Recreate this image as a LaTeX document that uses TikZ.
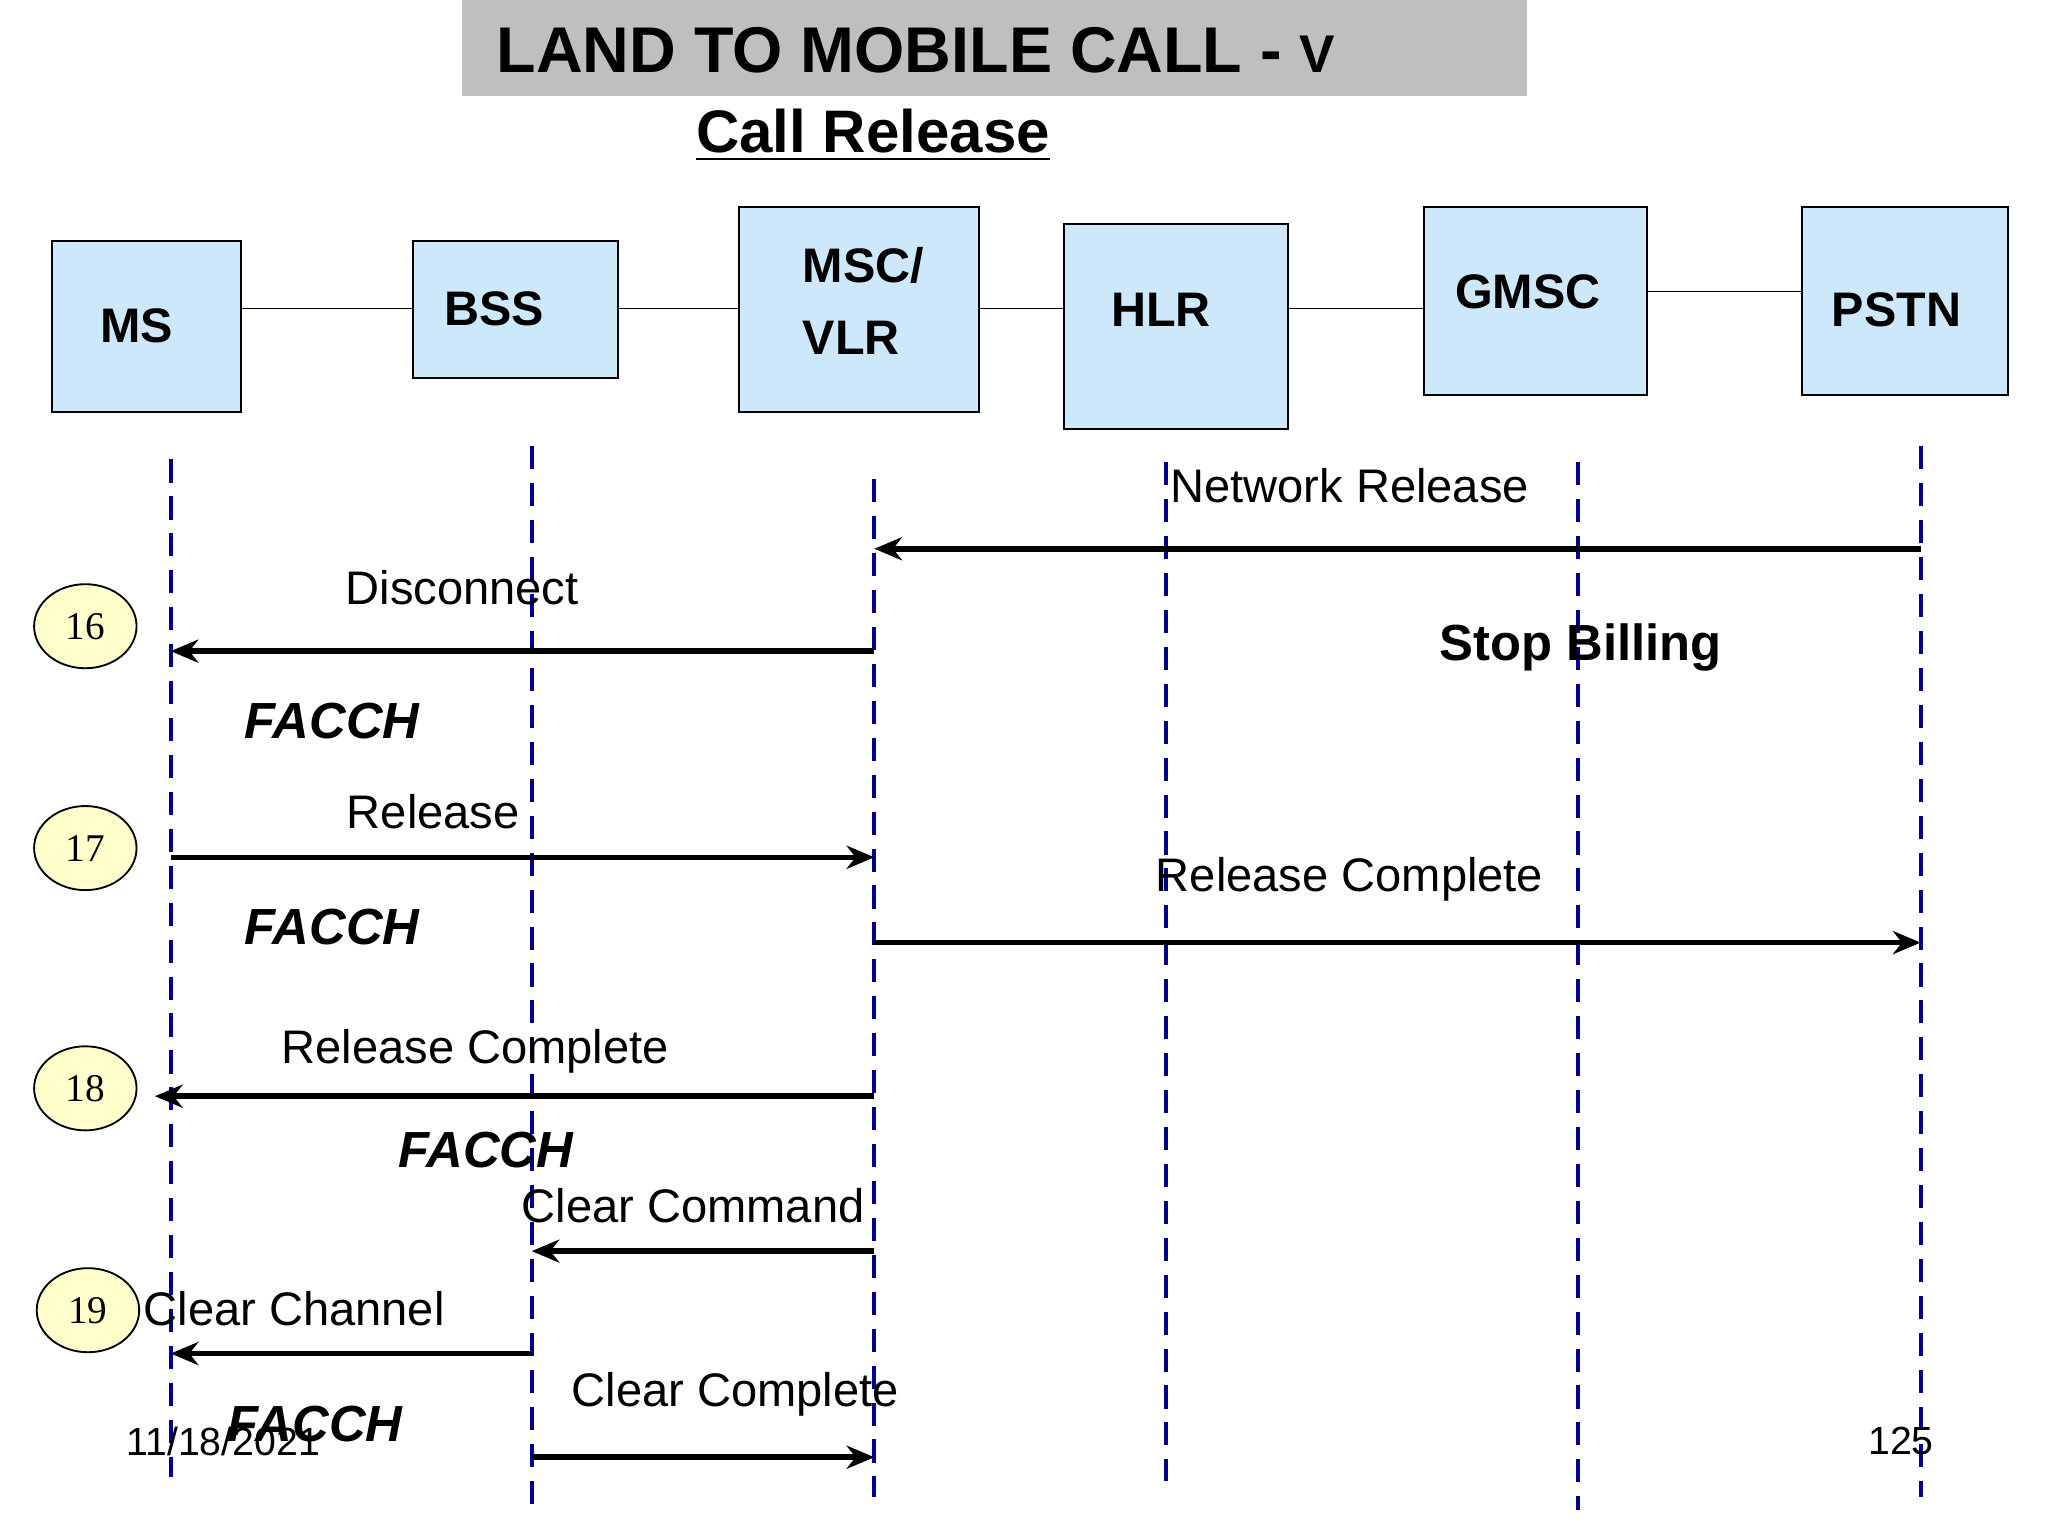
\documentclass[tikz,border=0pt]{standalone}
\usepackage{fontspec}
\setmainfont{Liberation Sans}
\newfontfamily\numfont{Liberation Serif}
\usetikzlibrary{arrows.meta}
\usetikzlibrary{shapes.geometric}
\definecolor{boxblue}{RGB}{204,232,250}
\definecolor{circyel}{RGB}{255,255,204}
\definecolor{lifeblue}{RGB}{0,0,140}
\tikzset{
  ent/.style={draw, fill=boxblue, anchor=north west, inner sep=0pt},
  ename/.style={font=\bfseries\fontsize{10.5}{13}\selectfont, anchor=west},
  life/.style={lifeblue, dashed, line width=0.9pt, dash pattern=on 5pt off 3pt},
  msg/.style={line width=1.2pt, -{Stealth[length=6pt,width=5pt]}},
  lbl/.style={font=\fontsize{10.2}{12}\selectfont},
  chan/.style={font=\bfseries\itshape\fontsize{11}{13}\selectfont},
  stepno/.style={ellipse, draw, fill=circyel, minimum width=0.78cm, minimum height=0.64cm, inner sep=0pt, font=\numfont\fontsize{8.5}{10}\selectfont}
}
\begin{document}
\begin{tikzpicture}[x=0.01cm, y=-0.01cm]
\useasboundingbox (0,0) rectangle (1560,1170);
% title
\fill[gray!50] (352,0) rectangle (1163,73);
\node[anchor=west, font=\bfseries\fontsize{14}{17}\selectfont] (title) at (366,38) {LAND TO MOBILE CALL - {\fontsize{11.5}{14}\selectfont V}};
\node[font=\bfseries\fontsize{13}{15}\selectfont] (sub) at (665,103) {\underline{Call Release}};
% entities
\node[ent, minimum width=1.44cm, minimum height=1.30cm] (ms) at (39,183) {};
\node[ent, minimum width=1.56cm, minimum height=1.04cm] (bss) at (314,183) {};
\node[ent, minimum width=1.83cm, minimum height=1.56cm] (msc) at (562,157) {};
\node[ent, minimum width=1.70cm, minimum height=1.56cm] (hlr) at (810,170) {};
\node[ent, minimum width=1.70cm, minimum height=1.43cm] (gmsc) at (1084,157) {};
\node[ent, minimum width=1.57cm, minimum height=1.43cm] (pstn) at (1372,157) {};
\node[ename] (msl) at (64,248) {MS};
\node[ename] (bssl) at (326,235) {BSS};
\node[ename] (mscl) at (599,202) {MSC/};
\node[ename] (vlrl) at (599,257) {VLR};
\node[ename] (hlrl) at (834,236) {HLR};
\node[ename] (gmscl) at (1096,222) {GMSC};
\node[ename] (pstnl) at (1383,236) {PSTN};
\draw (ms.east |- 0,235) -- (bss.west |- 0,235);
\draw (bss.east |- 0,235) -- (msc.west |- 0,235);
\draw (msc.east |- 0,235) -- (hlr.west |- 0,235);
\draw (hlr.east |- 0,235) -- (gmsc.west |- 0,235);
\draw (gmsc.east |- 0,222) -- (pstn.west |- 0,222);
% lifelines
\foreach \n/\x/\a/\b in {a/130/350/1125, b/405/340/1150, c/666/365/1140, d/888/352/1128, e/1202/352/1150, f/1463/340/1140}{
  \coordinate (top\n) at (\x,\a);
  \coordinate (bot\n) at (\x,\b);
  \draw[life] (top\n) -- (bot\n);
}
% messages
\coordinate (p1) at (1463,418); \coordinate (q1) at (666,418);
\draw[msg] (p1) -- (q1);
\node[lbl] (t1) at (1028,370) {Network Release};
\coordinate (p2) at (666,496); \coordinate (q2) at (130,496);
\draw[msg] (p2) -- (q2);
\node[lbl] (t2) at (352,448) {Disconnect};
\node[font=\bfseries\fontsize{11}{13}\selectfont] (bill) at (1204,493) {Stop Billing};
\node[chan] (f1) at (253,549) {FACCH};
\coordinate (p3) at (130,653); \coordinate (q3) at (666,653);
\draw[msg] (p3) -- (q3);
\node[lbl] (t3) at (330,618) {Release};
\coordinate (p4) at (666,718); \coordinate (q4) at (1463,718);
\draw[msg] (p4) -- (q4);
\node[lbl] (t4) at (1028,670) {Release Complete};
\node[chan] (f2) at (253,706) {FACCH};
\coordinate (p5) at (666,835); \coordinate (q5) at (118,835);
\draw[msg] (p5) -- (q5);
\node[lbl] (t5) at (362,801) {Release Complete};
\node[chan] (f3) at (370,876) {FACCH};
\coordinate (p6) at (666,953); \coordinate (q6) at (405,953);
\draw[msg] (p6) -- (q6);
\node[lbl] (t6) at (528,918) {Clear Command};
\coordinate (p7) at (405,1031); \coordinate (q7) at (130,1031);
\draw[msg] (p7) -- (q7);
\node[lbl] (t7) at (224,997) {Clear Channel};
\coordinate (p8) at (405,1110); \coordinate (q8) at (666,1110);
\draw[msg] (p8) -- (q8);
\node[lbl] (t8) at (560,1062) {Clear Complete};
\node[chan] (f4) at (240,1085) {FACCH};
% steps
\node[stepno] (s16) at (65,477) {16};
\node[stepno] (s17) at (65,646) {17};
\node[stepno] (s18) at (65,829) {18};
\node[stepno] (s19) at (67,998) {19};
% footer
\node[font=\fontsize{8.5}{10}\selectfont] (date) at (170,1098) {11/18/2021};
\node[font=\fontsize{8.5}{10}\selectfont] (page) at (1448,1098) {125};
\end{tikzpicture}
\end{document}
